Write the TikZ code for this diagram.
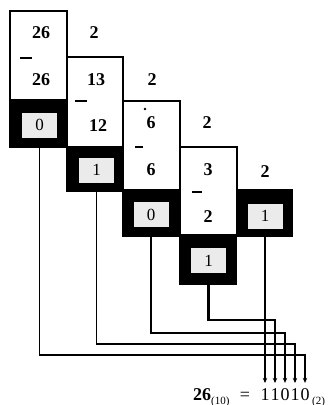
\documentclass[tikz,border=0pt]{standalone}
\usepackage{fontspec}
\setmainfont{Liberation Serif}
\usetikzlibrary{arrows.meta}

\begin{document}
\begin{tikzpicture}[x=1pt,y=-1pt,
  frame/.style={draw=black, line width=2pt, fill=white},
  band/.style={fill=black},
  rem/.style={fill=black!8, minimum width=35pt, minimum height=25pt, inner sep=0pt,
              font=\fontsize{17}{17}\selectfont},
  num/.style={inner sep=0pt, font=\fontsize{18}{18}\selectfont\bfseries},
  minus/.style={line width=2pt},
  conn/.style={line width=1.7pt},
  tip/.style={conn, -{Stealth[length=5pt,width=4.5pt]}, shorten >=4pt},
  bit/.style={inner sep=1pt, anchor=base, font=\fontsize{18}{18}\selectfont},
  sub/.style={inner sep=0pt, anchor=base west, font=\fontsize{11}{11}\selectfont}
]
\useasboundingbox (0,0) rectangle (331,405);

% levels of the horizontal runs
\coordinate (y4) at (0,320);
\coordinate (y3) at (0,333);
\coordinate (y2) at (0,344);
\coordinate (y1) at (0,355);

% division steps
\draw[frame] (10,11) rectangle (67,100);
\fill[band] (9,100) rectangle (67,148);
\draw[frame] (67,57) rectangle (123,147);
\fill[band] (66,147) rectangle (123,192);
\draw[frame] (123,101) rectangle (180,190);
\fill[band] (122,190) rectangle (180,237);
\draw[frame] (180,147) rectangle (237,235);
\fill[band] (179,235) rectangle (237,285);
\fill[band] (236,189) rectangle (293,237);

% step 1: 26 / 2
\node[num] (a1) at (41,33) {26};
\draw[minus] (20,58) -- (32,58);
\node[num] (b1) at (41,80) {26};
\node[num] (q1) at (94,33) {2};
\node[rem] (r1) at (39.5,125) {0};

% step 2: 13 / 2
\node[num] (a2) at (96,80) {13};
\draw[minus] (75,101) -- (87,101);
\node[num] (b2) at (98,126) {12};
\node[num] (q2) at (152,80) {2};
\node[rem] (r2) at (96.5,170) {1};

% step 3: 6 / 2
\fill (145,109) circle (1.3);
\node[num] (a3) at (151,123) {6};
\draw[minus] (135,147) -- (143,147);
\node[num] (b3) at (151,170) {6};
\node[num] (q3) at (207,123) {2};
\node[rem] (r3) at (151,214.5) {0};

% step 4: 3 / 2
\node[num] (a4) at (208,170) {3};
\draw[minus] (192,192) -- (202,192);
\node[num] (b4) at (208,217) {2};
\node[num] (q4) at (265,172) {2};
\node[rem] (r4) at (208.5,260.5) {1};

% step 5: last quotient
\node[rem] (r5) at (265,216) {1};

% result line
\node[num, anchor=base] (lhs) at (202,400) {26};
\node[sub] (lhsb) at (211,404) {(10)};
\node[bit] (eq) at (245,400) {=};
\node[bit] (d1) at (265,400) {1};
\node[bit] (d2) at (275,400) {1};
\node[bit] (d3) at (285,400) {0};
\node[bit] (d4) at (295,400) {1};
\node[bit] (d5) at (305,400) {0};
\node[sub] (rhsb) at (312,404) {(2)};

% remainders carried down to the result, last one first
\draw[tip] (r5.south) -- (d1.north);
\draw[line width=2.8pt] (r4.south) |- ([xshift=-35pt]d2 |- y4);
\draw[tip] (r4.south) |- (d2 |- y4) -- (d2.north);
\draw[tip] (r3.south) |- (d3 |- y3) -- (d3.north);
\draw[tip] (r2.south) |- (d4 |- y2) -- (d4.north);
\draw[tip] (r1.south) |- (d5 |- y1) -- (d5.north);
\end{tikzpicture}
\end{document}
